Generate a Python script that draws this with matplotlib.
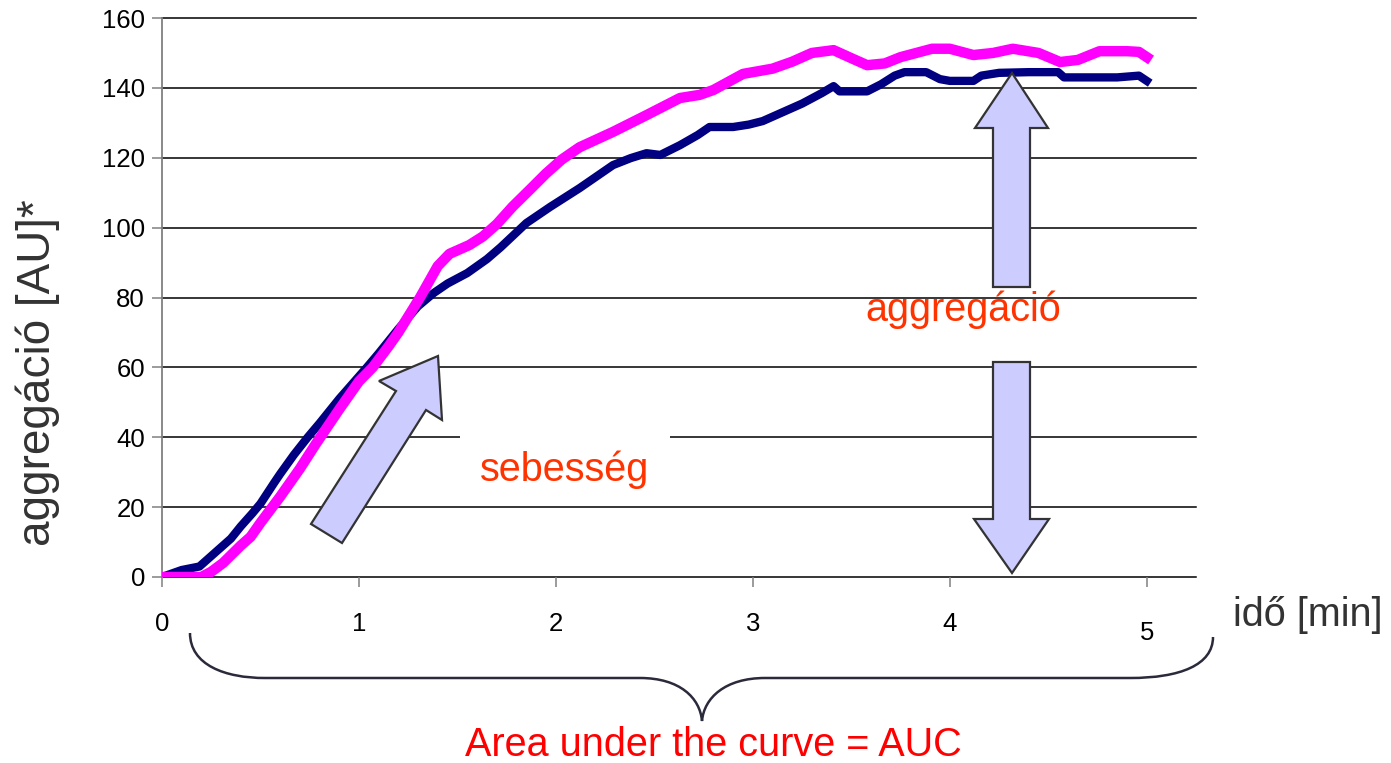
import numpy as np
import matplotlib
matplotlib.use("Agg")
import matplotlib.pyplot as plt
from matplotlib.patches import Polygon, Rectangle, PathPatch
from matplotlib.path import Path
from matplotlib.transforms import IdentityTransform

plt.rcParams['font.family'] = ['Liberation Sans', 'DejaVu Sans']

# sötétkék görbe (idő [min], aggregáció [AU])
ido_kek = [0, 0.05, 0.1, 0.19, 0.25, 0.3, 0.35, 0.4, 0.46, 0.5, 0.57, 0.6, 0.67, 0.74, 0.8, 0.9,
           1.04, 1.1, 1.2, 1.3, 1.38, 1.45, 1.55, 1.65, 1.72, 1.85, 1.97, 2.12, 2.29, 2.38,
           2.46, 2.53, 2.63, 2.72, 2.78, 2.9, 2.98, 3.05, 3.15, 3.25, 3.35, 3.41, 3.44, 3.5,
           3.58, 3.65, 3.72, 3.77, 3.88, 3.95, 4.0, 4.12, 4.16, 4.25, 4.4, 4.55, 4.58, 4.7,
           4.85, 4.96, 5.0]
aggr_kek = [0, 1, 2, 3, 6, 8.5, 11, 14.5, 18.3, 21, 27, 29.5, 35, 40, 44, 51,
            60, 64, 71, 77.5, 81.3, 84, 87, 91, 94.4, 101.3, 105.9, 111.3, 117.9, 119.9,
            121.3, 120.8, 123.6, 126.5, 128.8, 128.8, 129.5, 130.5, 133, 135.5, 138.5, 140.5, 139, 139,
            139, 141, 143.5, 144.5, 144.5, 142.5, 142, 142, 143.5, 144.3, 144.5, 144.5, 143, 143,
            143, 143.5, 142]

# magenta görbe
ido_lila = [0, 0.1, 0.2, 0.25, 0.31, 0.4, 0.45, 0.5, 0.6, 0.7, 0.78, 0.9, 1.0, 1.07, 1.15,
            1.2, 1.31, 1.35, 1.4, 1.46, 1.56, 1.63, 1.7, 1.78, 1.87, 1.95, 2.03, 2.12, 2.29, 2.46, 2.63, 2.73,
            2.8, 2.95, 3.1, 3.2, 3.3, 3.41, 3.5, 3.58, 3.67, 3.75, 3.91, 4.0, 4.12, 4.22,
            4.32, 4.45, 4.56, 4.65, 4.76, 4.9, 4.96, 5.0]
aggr_lila = [0, 0, 0, 1.5, 4, 9, 11.5, 15.5, 23, 31, 38, 48, 56, 60, 66,
             70, 80, 84, 89, 92.5, 95, 97.5, 101, 106, 111, 115.5, 119.5, 123, 127.4, 132.2, 137.1, 138,
             139.4, 144, 145.5, 147.5, 150, 150.8, 148.5, 146.5, 147, 148.8, 151.2, 151.2, 149.4, 150,
             151.2, 150, 147.4, 148, 150.5, 150.5, 150.3, 148.8]

y_ticks = [0, 20, 40, 60, 80, 100, 120, 140, 160]
x_ticks = [0, 1, 2, 3, 4, 5]
x_cimkek = ['0', '1', '2', '3', '4', '']

W, H = 1391, 763
fig = plt.figure(figsize=(W / 100, H / 100), dpi=100)
ax = fig.add_axes([162 / W, 1 - 577 / H, (1196 - 162) / W, (577 - 18) / H])
ax.set_xlim(0, 5.25)
ax.set_ylim(0, 160)

for s in ['top', 'right', 'bottom']:
    ax.spines[s].set_visible(False)
ax.spines['left'].set_color('#808080')
ax.spines['left'].set_linewidth(1.3)

ax.set_yticks(y_ticks)
ax.set_yticklabels([str(v) for v in y_ticks])
ax.set_xticks(x_ticks)
ax.set_xticklabels(x_cimkek)
ax.tick_params(axis='y', length=7.2, width=1.1, color='#808080', pad=5, labelsize=18.5)
ax.tick_params(axis='x', length=7.2, width=1.1, color='#808080', pad=18, labelsize=18.5)
ax.text(5, -0.078, '5', transform=ax.get_xaxis_transform(), ha='center', va='top', fontsize=18.5)

for v in y_ticks:
    ax.axhline(v, color='black', lw=1.1, zorder=1, clip_on=False)

# fehér folt a 40-es rácsvonalon
fig.add_artist(Rectangle((460, H - 441), 210, 8, transform=IdentityTransform(),
                         facecolor='white', edgecolor='none', zorder=2))

ax.plot(ido_kek, aggr_kek, color='#000080', lw=6, zorder=3, solid_joinstyle='round')
ax.plot(ido_lila, aggr_lila, color='#FF00FF', lw=7.5, zorder=4, solid_joinstyle='round')


def px_poly(pts):
    return Polygon([(x, H - y) for x, y in pts], closed=True, transform=IdentityTransform(),
                   facecolor='#CCCCFF', edgecolor='#333333', lw=1.6, zorder=5)


# nyilak
fig.add_artist(px_poly([(438, 356), (379, 381), (396, 391), (311, 524), (342, 543),
                        (426, 410), (442, 420)]))
fig.add_artist(px_poly([(1012, 73), (1048, 128), (1030, 128), (1030, 287), (993, 287),
                        (993, 128), (975, 128)]))
fig.add_artist(px_poly([(993, 362), (1030, 362), (1030, 519), (1049, 519), (1012, 573),
                        (974, 519), (993, 519)]))

# kapcsos zárójel
br = [(190, 633), (190, 665), (225, 678), (265, 678),
      (640, 678),
      (680, 678), (700, 698), (702, 721),
      (704, 698), (725, 678), (765, 678),
      (1130, 678),
      (1180, 678), (1213, 665), (1213, 637)]
codes = [Path.MOVETO, Path.CURVE4, Path.CURVE4, Path.CURVE4,
         Path.LINETO,
         Path.CURVE4, Path.CURVE4, Path.CURVE4,
         Path.CURVE4, Path.CURVE4, Path.CURVE4,
         Path.LINETO,
         Path.CURVE4, Path.CURVE4, Path.CURVE4]
fig.add_artist(PathPatch(Path([(x, H - y) for x, y in br], codes), transform=IdentityTransform(),
                         facecolor='none', edgecolor='#2a2a3a', lw=1.8, zorder=5))

# feliratok
fig.text(38 / W, 1 - 373 / H, 'aggregáció [AU]*', rotation=90, ha='center', va='center',
         fontsize=33, color='#333333')
fig.text(1308 / W, 1 - 615 / H, 'idő [min]', ha='center', va='center', fontsize=28.5, color='#333333')
fig.text(565 / W, 1 - 470 / H, 'sebesség', ha='center', va='center', fontsize=28.5, color='#FF3300',
         zorder=6)
fig.text(963 / W, 1 - 310 / H, 'aggregáció', ha='center', va='center', fontsize=28.5, color='#FF3300',
         zorder=6)
fig.text(713 / W, 1 - 745 / H, 'Area under the curve = AUC', ha='center', va='center', fontsize=28.5,
         color='#FF0000')

fig.savefig('out.png', dpi=100)
